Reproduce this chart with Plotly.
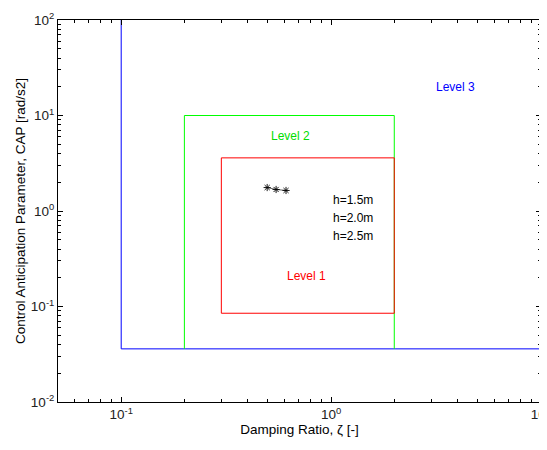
import plotly.graph_objects as go
import numpy as np

# Level boundaries
level3_x = [0.1, 0.1, 10]
level3_y = [100, 0.036, 0.036]
level2_x = [0.2, 0.2, 2.0, 2.0]
level2_y = [0.036, 10, 10, 0.036]
level1_x = [0.3, 0.3, 2.0, 2.0, 0.3]
level1_y = [0.085, 3.6, 3.6, 0.085, 0.085]

# Measured points
zeta_pts = [0.496, 0.547, 0.61]
cap_pts = [1.76, 1.68, 1.64]
h_labels = ["h=1.5m", "h=2.0m", "h=2.5m"]

x_ticks = [0.1, 1, 10]
x_ticktext = ["10<sup>-1</sup>", "10<sup>0</sup>", "10<sup>1</sup>"]
y_ticks = [0.01, 0.1, 1, 10, 100]
y_ticktext = ["10<sup>-2</sup>", "10<sup>-1</sup>", "10<sup>0</sup>", "10<sup>1</sup>", "10<sup>2</sup>"]

x_minor = [m * d for d in [0.01, 0.1, 1] for m in range(2, 10) if 0.05 <= m * d <= 10]
y_minor = [m * d for d in [0.01, 0.1, 1, 10] for m in range(2, 10)]

fig = go.Figure()
fig.add_trace(go.Scatter(x=level3_x, y=level3_y, mode="lines", line=dict(color="#0000ff", width=1)))
fig.add_trace(go.Scatter(x=level2_x, y=level2_y, mode="lines", line=dict(color="#00ff00", width=1)))
fig.add_trace(go.Scatter(x=level1_x, y=level1_y, mode="lines", line=dict(color="#ff0000", width=1)))
fig.add_trace(go.Scatter(x=zeta_pts, y=cap_pts, mode="lines+markers",
                         line=dict(color="black", width=0.6),
                         marker=dict(symbol="asterisk-open", size=6, color="black",
                                     line=dict(color="black", width=0.9))))

fam = "Liberation Sans, Arial, sans-serif"
font = dict(family=fam, size=12, color="black")
tickf = dict(family=fam, size=13.5, color="#222222")
tfont = dict(family=fam, size=13.5, color="black")

annotations = [
    dict(x=np.log10(3.9), y=np.log10(20), text="Level 3", font=dict(font, color="#0000ff")),
    dict(x=np.log10(0.64), y=np.log10(6.1), text="Level 2", font=dict(font, color="#00dd00")),
    dict(x=np.log10(0.76), y=np.log10(0.209), text="Level 1", font=dict(font, color="#ff0000")),
]
h_y = [1.30, 0.845, 0.547]
for lab, yy in zip(h_labels, h_y):
    annotations.append(dict(x=0.0, y=np.log10(yy), text=lab, xanchor="left", font=font))
for a in annotations:
    a.setdefault("xanchor", "center")
    a.update(showarrow=False, xref="x", yref="y", yanchor="middle")

axis_common = dict(type="log", ticks="inside", ticklen=5, tickcolor="black", showline=True,
                   linecolor="black", linewidth=1, mirror="ticks", showgrid=False,
                   zeroline=False, automargin=False, tickfont=tickf,
                   ticklabeloverflow="allow")

# page body has an 8px margin, so the figure is offset by 8px
fig.update_layout(
    width=539, height=442,
    margin=dict(l=50, r=6, t=12, b=48),
    paper_bgcolor="white", plot_bgcolor="white",
    showlegend=False, font=font,
    annotations=annotations,
    xaxis=dict(axis_common, range=[np.log10(0.05), 1], tickvals=x_ticks, ticktext=x_ticktext,
               minor=dict(ticks="inside", ticklen=3, tickcolor="black", showgrid=False,
                          tickvals=x_minor),
               title=dict(text="Damping Ratio, ζ [-]", font=tfont, standoff=2)),
    yaxis=dict(axis_common, range=[-2, 2], tickvals=y_ticks, ticktext=y_ticktext,
               minor=dict(ticks="inside", ticklen=3, tickcolor="black", showgrid=False,
                          tickvals=y_minor),
               title=dict(text="Control Anticipation Parameter, CAP [rad/s2]", font=tfont, standoff=2)),
)

fig.write_html("out.html")
